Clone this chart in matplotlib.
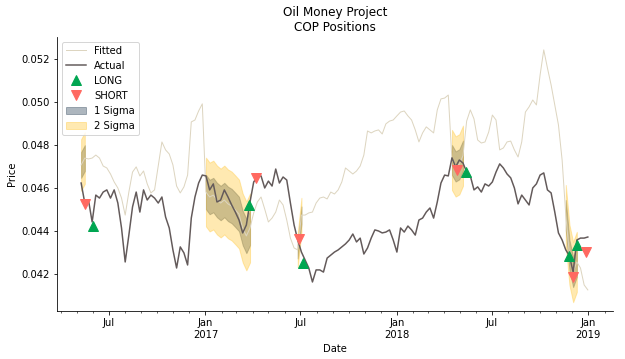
import numpy as np
import pandas as pd
import matplotlib
matplotlib.use('Agg')
import matplotlib.pyplot as plt
import matplotlib.dates as mdates
from matplotlib.ticker import FuncFormatter

# weekly samples, starting 2016-05-09
start = '2016-05-09'
actual = [0.04623, 0.04530, 0.04544, 0.04442, 0.04567, 0.04553, 0.04581, 0.04591, 0.04553, 0.04591,
          0.04530, 0.04414, 0.04256, 0.04381, 0.04512, 0.04581, 0.04488, 0.04591, 0.04544, 0.04567,
          0.04553, 0.04530, 0.04558, 0.04465, 0.04414, 0.04312, 0.04228, 0.04326, 0.04298, 0.04242,
          0.04460, 0.04558, 0.04623, 0.04660, 0.04656, 0.04591, 0.04619, 0.04535, 0.04544, 0.04591,
          0.04558, 0.04521, 0.04488, 0.04451, 0.04391, 0.04428, 0.04535, 0.04628, 0.04651, 0.04656,
          0.04600, 0.04632, 0.04609, 0.04688, 0.04623, 0.04651, 0.04637, 0.04530, 0.04428, 0.04358,
          0.04302, 0.04265, 0.04228, 0.04163, 0.04219, 0.04219, 0.04209, 0.04274, 0.04288, 0.04302,
          0.04312, 0.04326, 0.04340, 0.04358, 0.04386, 0.04349, 0.04367, 0.04293, 0.04321, 0.04367,
          0.04405, 0.04400, 0.04391, 0.04395, 0.04405, 0.04358, 0.04302, 0.04414, 0.04395, 0.04423,
          0.04405, 0.04381, 0.04451, 0.04460, 0.04488, 0.04507, 0.04460, 0.04535, 0.04623, 0.04660,
          0.04656, 0.04740, 0.04698, 0.04730, 0.04716, 0.04674, 0.04656, 0.04591, 0.04605, 0.04581,
          0.04619, 0.04609, 0.04628, 0.04674, 0.04712, 0.04693, 0.04665, 0.04647, 0.04600, 0.04526,
          0.04567, 0.04544, 0.04521, 0.04600, 0.04619, 0.04660, 0.04670, 0.04591, 0.04577, 0.04488,
          0.04391, 0.04358, 0.04312, 0.04284, 0.04209, 0.04358, 0.04367, 0.04367, 0.04372]
fitted = [0.04707, 0.04739, 0.04735, 0.04739, 0.04753, 0.04739, 0.04702, 0.04693, 0.04665, 0.04628,
          0.04600, 0.04553, 0.04474, 0.04581, 0.04674, 0.04698, 0.04656, 0.04679, 0.04619, 0.04577,
          0.04591, 0.04702, 0.04814, 0.04777, 0.04758, 0.04707, 0.04609, 0.04577, 0.04605, 0.04660,
          0.04907, 0.04916, 0.04958, 0.04991, 0.04581, 0.04558, 0.04567, 0.04544, 0.04530, 0.04544,
          0.04526, 0.04516, 0.04498, 0.04479, 0.04414, 0.04377, 0.04414, 0.04484, 0.04535, 0.04558,
          0.04502, 0.04442, 0.04460, 0.04488, 0.04544, 0.04521, 0.04451, 0.04367, 0.04321, 0.04312,
          0.04474, 0.04474, 0.04484, 0.04488, 0.04530, 0.04553, 0.04558, 0.04549, 0.04581, 0.04572,
          0.04591, 0.04628, 0.04693, 0.04679, 0.04665, 0.04679, 0.04702, 0.04753, 0.04865, 0.04856,
          0.04865, 0.04870, 0.04851, 0.04898, 0.04911, 0.04916, 0.04935, 0.04953, 0.04958, 0.04935,
          0.04916, 0.04870, 0.04814, 0.04856, 0.04884, 0.04870, 0.04856, 0.04963, 0.05014, 0.05018,
          0.05032, 0.04730, 0.04700, 0.04710, 0.04750, 0.04911, 0.04963, 0.04921, 0.04823, 0.04809,
          0.04814, 0.04860, 0.04939, 0.04916, 0.04777, 0.04786, 0.04814, 0.04818, 0.04777, 0.04744,
          0.04814, 0.04953, 0.04977, 0.05009, 0.04986, 0.05125, 0.05242, 0.05158, 0.05079, 0.04986,
          0.04893, 0.04730, 0.04474, 0.04288, 0.04209, 0.04256, 0.04228, 0.04149, 0.04126]

long_dates = ['2016-06-01', '2017-03-25', '2017-07-06', '2018-05-13', '2018-11-25', '2018-12-10']
long_prices = [0.04423, 0.04521, 0.04251, 0.04674, 0.04284, 0.04335]
short_dates = ['2016-05-16', '2017-04-08', '2017-06-28', '2018-04-26', '2018-12-03', '2018-12-27']
short_prices = [0.04526, 0.04647, 0.04363, 0.04684, 0.04186, 0.04302]

# holding periods with the std of the fit residuals
window_start = ['2016-05-09', '2017-01-02', '2017-06-26', '2018-04-16', '2018-11-19']
window_end = ['2016-05-16', '2017-03-27', '2017-07-03', '2018-05-07', '2018-12-10']
window_sigma = [0.0006, 0.0008, 0.0004, 0.0007, 0.0007]

dates = pd.date_range(start, periods=len(actual), freq='7D')
fit = np.array(fitted)

fig = plt.figure(figsize=(625 / 72, 359 / 72), dpi=72)
ax = fig.add_axes([0.0912, 0.1337, 0.8896, 0.7633])
ax.spines['top'].set_visible(False)
ax.spines['right'].set_visible(False)

ax.plot(dates, fitted, c='#ddd5c0', lw=1, label='Fitted')
ax.plot(dates, actual, c='#635a5a', lw=1.5, label='Actual')
ax.plot(pd.to_datetime(long_dates), long_prices, lw=0, marker='^', markersize=10,
        c='#00a651', label='LONG')
ax.plot(pd.to_datetime(short_dates), short_prices, lw=0, marker='v', markersize=10,
        c='#ff6961', label='SHORT')

for i in range(len(window_start)):
    m = (dates >= window_start[i]) & (dates <= window_end[i])
    sd = window_sigma[i]
    ax.fill_between(dates[m], fit[m] - sd, fit[m] + sd, color='#34495e', alpha=0.4,
                    label='1 Sigma' if i == 0 else None)
    ax.fill_between(dates[m], fit[m] - 2 * sd, fit[m] + 2 * sd, color='#ffc93c', alpha=0.4,
                    label='2 Sigma' if i == 0 else None)

ax.set_xlim(pd.Timestamp('2016-03-24'), pd.Timestamp('2019-02-17'))
ax.set_ylim(0.04028, 0.05302)
ax.set_yticks([0.042, 0.044, 0.046, 0.048, 0.050, 0.052])
ax.yaxis.set_major_formatter(FuncFormatter(lambda y, _: '{:.3f}'.format(y)))

ax.xaxis.set_major_locator(mdates.MonthLocator(bymonth=[1, 7]))
ax.xaxis.set_minor_locator(mdates.MonthLocator())


def date_label(x, _):
    d = mdates.num2date(x)
    if d.month == 1:
        return 'Jan\n' + str(d.year)
    return 'Jul'


ax.xaxis.set_major_formatter(FuncFormatter(date_label))
ax.tick_params(axis='x', which='minor', length=2)

ax.set_title('Oil Money Project\nCOP Positions')
ax.set_xlabel('Date')
ax.set_ylabel('Price')
ax.legend(loc='upper left')

plt.savefig('out.png', dpi=72)
